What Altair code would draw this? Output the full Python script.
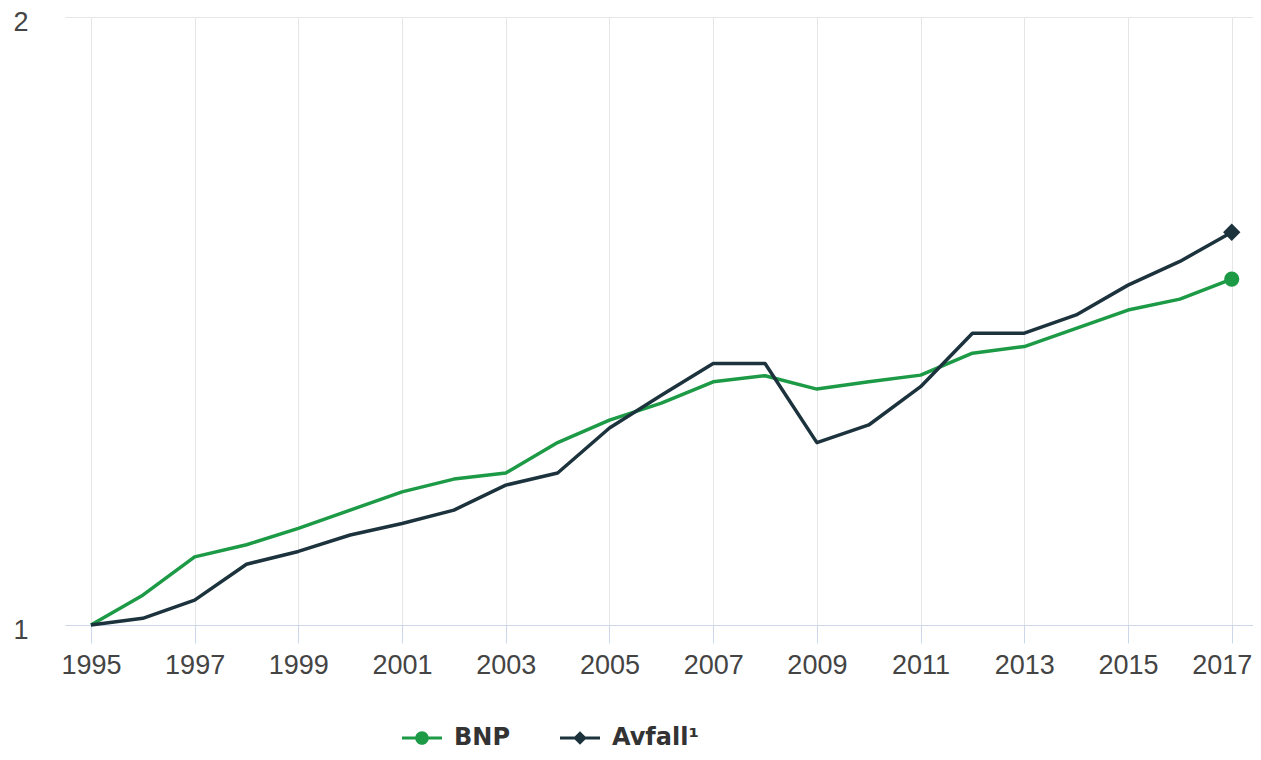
import altair as alt
import pandas as pd

years = list(range(1995, 2018))
bnp = [1.000, 1.049, 1.112, 1.132, 1.159, 1.189, 1.219, 1.240, 1.250, 1.300,
       1.337, 1.365, 1.400, 1.410, 1.388, 1.400, 1.411, 1.447, 1.458, 1.488,
       1.518, 1.536, 1.569]
avfall = [1.000, 1.011, 1.041, 1.100, 1.121, 1.148, 1.167, 1.189, 1.230, 1.250,
          1.324, 1.378, 1.430, 1.430, 1.300, 1.329, 1.392, 1.480, 1.480, 1.510,
          1.559, 1.598, 1.646]
series_names = ["BNP", "Avfall¹"]
series_colors = ["#1c9a46", "#1c333d"]
x_tick_values = list(range(1995, 2018, 2))
y_tick_values = [1, 2]

df = pd.DataFrame({
    "year": years * 2,
    "value": bnp + avfall,
    "series": [series_names[0]] * len(years) + [series_names[1]] * len(years),
})

FONT = "Liberation Sans"

# legend symbols: a line segment with a marker on it
circle_path = ("M-1,-0.08L1,-0.08L1,0.08L-1,0.08Z "
               "M0.34,0A0.34,0.34 0 1,1 -0.34,0A0.34,0.34 0 1,1 0.34,0Z")
diamond_path = ("M-1,-0.08L1,-0.08L1,0.08L-1,0.08Z "
                "M0,-0.34L0.34,0L0,0.34L-0.34,0Z")

x_enc = alt.X(
    "year:Q",
    scale=alt.Scale(domain=[1994.5, 2017.41], nice=False, zero=False),
    axis=alt.Axis(
        values=x_tick_values, format="d", title=None,
        grid=True, gridColor="#e6e6e6", gridWidth=1,
        domainColor="#ccd6eb", domainWidth=1,
        tickColor="#ccd6eb", tickSize=18, tickWidth=1,
        labelFont=FONT, labelFontSize=27, labelColor="#444444",
        labelPadding=9, labelFlush=False,
        labelOffset={"condition": {"test": "datum.value == 2017", "value": -10}, "value": 0},
    ),
)
y_enc = alt.Y(
    "value:Q",
    scale=alt.Scale(domain=[1, 2], nice=False, zero=False),
    axis=alt.Axis(
        values=y_tick_values, format="d", title=None,
        grid=True, gridColor="#e6e6e6", gridWidth=1,
        domain=False, ticks=False,
        labelFont=FONT, labelFontSize=27, labelColor="#444444",
        labelPadding=37, labelOffset=5,
    ),
)

legend_spec = alt.Legend(
    title=None, orient="none", direction="horizontal",
    legendX=337, legendY=701,
    symbolSize=1600, symbolStrokeWidth=0, symbolOpacity=1,
    labelFont="DejaVu Sans", labelFontSize=24, labelFontWeight="bold", labelColor="#333333",
    labelOffset=12, columnPadding=50, padding=0, labelLimit=300,
)

# invisible layer that only carries the legend (line + marker symbols)
legend_layer = alt.Chart(df).mark_point(filled=True, opacity=0).encode(
    x=x_enc, y=y_enc,
    color=alt.Color("series:N", scale=alt.Scale(domain=series_names, range=series_colors),
                    legend=legend_spec),
    shape=alt.Shape("series:N",
                    scale=alt.Scale(domain=series_names, range=[circle_path, diamond_path]),
                    legend=legend_spec),
)

lines = alt.Chart(df).mark_line(strokeWidth=3.5, strokeJoin="round").encode(
    x="year:Q", y="value:Q",
    stroke=alt.Stroke("series:N", scale=alt.Scale(domain=series_names, range=series_colors),
                      legend=None),
    detail="series:N",
)

end_bnp = alt.Chart(df).transform_filter(
    (alt.datum.series == series_names[0]) & (alt.datum.year == 2017)
).mark_point(shape="circle", filled=True, size=230, opacity=1, color=series_colors[0]).encode(
    x="year:Q", y="value:Q"
)
end_avf = alt.Chart(df).transform_filter(
    (alt.datum.series == series_names[1]) & (alt.datum.year == 2017)
).mark_point(shape="diamond", filled=True, size=300, opacity=1, color=series_colors[1]).encode(
    x="year:Q", y="value:Q"
)

chart = alt.layer(legend_layer, lines, end_bnp, end_avf).properties(
    width=1188, height=608,
    padding={"left": 57, "top": 9, "right": 0, "bottom": 127},
    autosize=alt.AutoSizeParams(type="none"),
    background="#ffffff",
).configure_view(stroke=None)

chart.save("out.html", embed_options={"renderer": "svg", "actions": False})
